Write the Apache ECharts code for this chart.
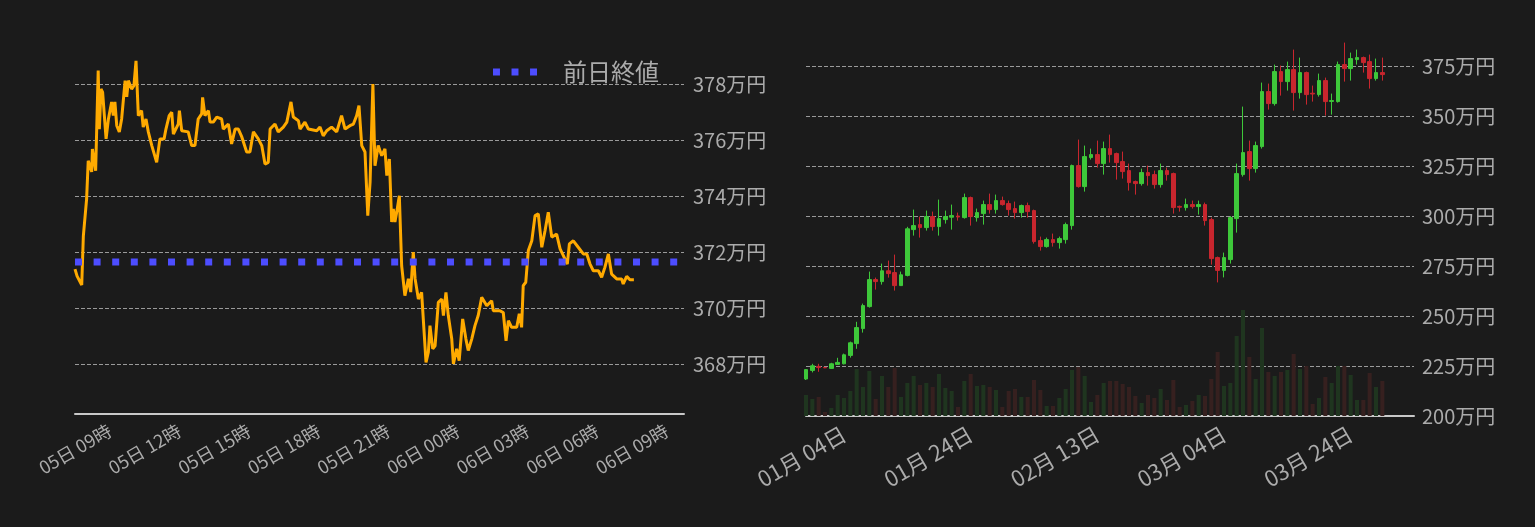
<!DOCTYPE html>
<html>
<head>
<meta charset="utf-8">
<script src="https://cdn.jsdelivr.net/npm/echarts@6/dist/echarts.min.js"></script>
<style>
html,body{margin:0;padding:0;background:#1b1b1b;}
#chart{width:1535px;height:527px;}
</style>
</head>
<body>
<div id="chart"></div>
<script>
// ---- Left chart: intraday price (hours since 05日 00:00, 万円) ----
const intradayHours = [7.50,7.59,7.79,7.86,8.00,8.07,8.22,8.25,8.39,8.50,8.55,8.62,8.69,8.84,8.94,9.08,9.15,9.22,9.30,9.41,9.51,9.66,9.73,9.80,9.94,10.04,10.13,10.23,10.37,10.44,10.56,10.66,10.81,11.02,11.16,11.34,11.42,11.56,11.67,11.74,11.95,12.00,12.10,12.38,12.53,12.67,12.81,12.96,13.00,13.10,13.25,13.32,13.46,13.61,13.82,13.89,14.11,14.25,14.40,14.54,14.69,14.90,15.04,15.19,15.40,15.55,15.69,15.83,15.91,16.12,16.26,16.48,16.63,16.81,16.91,17.13,17.20,17.41,17.56,17.92,18.06,18.20,18.35,18.56,18.78,18.99,19.14,19.35,19.50,19.64,19.74,19.86,20.00,20.12,20.22,20.34,20.43,20.57,20.72,20.86,20.94,21.05,21.15,21.22,21.29,21.39,21.48,21.58,21.72,21.87,21.97,22.08,22.16,22.30,22.44,22.51,22.63,22.73,22.80,22.92,23.02,23.16,23.31,23.38,23.49,23.59,23.74,23.81,23.95,24.06,24.21,24.35,24.45,24.60,24.74,24.88,25.03,25.25,25.46,25.53,25.82,25.96,26.08,26.18,26.32,26.54,26.65,26.75,26.82,26.93,27.04,27.19,27.33,27.47,27.62,27.76,27.90,28.05,28.26,28.41,28.55,28.72,28.81,28.98,29.19,29.41,29.56,29.70,29.84,30.06,30.20,30.34,30.49,30.63,30.85,31.06,31.13,31.28,31.42,31.59];
const intradayPrices = [371.39,371.14,370.82,372.58,373.89,375.26,374.86,375.68,374.90,378.48,376.39,377.82,377.71,376.04,376.75,377.36,376.87,377.36,376.51,376.29,376.75,378.12,377.54,378.12,377.82,377.94,378.83,376.87,377.05,376.46,376.75,376.29,375.80,375.20,376.04,376.04,376.39,376.87,376.99,376.21,376.57,377.05,376.33,376.29,375.80,375.80,376.75,376.93,377.52,376.87,377.05,376.64,376.64,376.82,376.75,376.39,376.57,375.86,376.39,376.39,376.11,375.57,375.57,376.29,376.04,375.80,375.14,375.20,376.39,376.57,376.29,376.46,376.64,377.36,376.82,376.69,376.39,376.64,376.39,376.33,376.46,376.15,376.33,376.46,376.29,376.87,376.39,376.51,376.57,376.87,377.23,375.80,375.57,373.30,374.50,378.00,375.08,375.80,375.44,375.68,374.73,375.32,373.07,373.54,373.07,373.54,374.01,371.51,370.44,371.04,370.57,372.00,371.04,370.32,370.56,370.57,368.06,368.42,369.37,368.54,368.65,370.20,370.32,369.73,370.56,369.73,368.89,368.00,368.54,368.12,369.61,368.89,368.48,368.89,369.37,369.73,370.38,370.08,370.26,369.90,369.90,369.84,368.83,369.55,369.31,369.31,369.79,369.31,370.80,370.92,372.05,372.40,373.30,373.36,372.17,372.76,373.42,372.53,372.64,372.11,371.87,371.57,372.29,372.40,372.17,371.93,371.93,371.57,371.33,371.33,371.10,371.45,371.93,371.21,371.04,371.04,370.86,371.13,371.01,371.01];
const prevClose = 371.64;
const prevCloseName = '前日終値';
const intradayTicks = [9,12,15,18,21,24,27,30,33];

// ---- Right chart: daily candles (万円) ----
const startDate = [2023, 11, 29]; // 2023-12-29
const categoryCount = 97;
const opens  = [218.5,222.8,224.8,224.3,223.8,225.8,226.1,230.3,236.2,243.7,254.7,268.2,267.2,272.6,271.7,265.2,270.3,293.2,295.7,294.2,299.7,294.7,298.2,299.4,300.0,299.2,309.2,299.2,301.2,305.7,303.2,307.7,306.2,303.7,301.7,305.2,302.7,287.7,284.7,288.2,286.7,288.2,295.2,325.2,314.7,329.2,330.7,326.2,333.7,331.2,327.2,322.7,317.2,316.2,321.7,320.7,315.7,322.7,321.2,304.8,304.2,305.7,304.7,305.7,298.2,279.2,272.8,278.2,298.7,320.7,332.2,323.7,334.7,362.2,356.2,372.2,367.2,373.2,361.7,371.7,361.4,360.7,367.7,357.3,357.2,375.7,373.7,378.2,379.2,377.2,368.7,371.7];
const closes = [223.2,225.1,224.2,224.1,226.1,226.8,230.6,236.6,244.2,255.2,268.2,267.2,272.6,271.2,265.2,270.6,293.6,295.2,294.2,299.7,294.7,298.7,299.7,300.2,299.5,309.2,299.7,301.7,305.7,303.2,307.7,305.7,303.2,301.7,305.2,302.2,287.2,284.7,288.2,286.7,288.7,295.7,325.2,314.7,329.7,330.7,326.2,333.7,330.7,326.7,322.2,316.7,316.2,321.7,320.2,315.7,322.7,320.7,304.2,304.4,305.7,304.7,305.7,297.7,278.7,272.8,279.2,299.2,321.2,331.7,323.7,335.2,362.2,356.2,372.2,367.2,373.2,361.7,371.7,360.7,361.0,367.7,357.2,357.7,375.7,373.7,378.7,379.2,376.7,368.7,371.7,370.7];
const lows   = [218.0,221.8,222.1,223.9,223.6,225.8,225.8,229.2,233.6,241.7,254.2,263.2,265.7,269.2,262.7,265.2,269.8,290.2,289.2,292.7,292.7,290.2,296.2,293.2,297.7,298.7,295.2,297.2,295.7,301.2,301.2,305.2,300.2,298.7,299.2,299.2,286.2,282.7,284.2,284.7,283.7,286.2,293.2,314.2,312.2,328.2,324.2,320.7,326.7,318.2,318.7,312.7,310.7,315.2,315.2,313.7,314.2,317.7,301.2,302.2,302.7,303.7,300.7,295.2,275.7,266.8,269.3,276.2,291.7,319.7,317.7,321.7,333.7,353.2,355.2,360.2,362.7,352.7,358.7,355.7,357.2,359.7,350.2,350.7,356.7,367.2,367.7,375.7,371.7,363.7,367.7,367.7];
const highs  = [223.5,226.1,226.1,224.5,226.6,229.1,231.2,237.2,247.1,256.2,272.2,269.2,276.2,277.7,280.7,272.2,294.6,303.2,299.7,302.7,302.2,308.2,302.7,305.7,301.7,311.2,309.7,303.7,307.7,311.2,310.7,309.7,307.7,307.2,305.7,306.7,303.2,289.7,289.2,291.2,289.7,296.7,325.7,338.2,335.2,333.7,337.7,337.2,340.7,331.7,332.2,326.2,317.7,323.7,325.2,322.7,326.2,324.2,321.7,305.2,308.7,307.7,307.7,306.7,299.2,279.7,281.7,300.0,326.2,354.7,337.7,337.2,366.7,366.2,375.7,375.2,377.2,383.2,379.2,372.2,365.2,371.2,369.2,361.2,377.2,386.7,381.7,383.2,379.7,380.7,378.7,379.2];
const volumes = [210,170,190,40,80,210,180,250,470,290,450,170,400,290,480,190,330,400,310,330,290,420,280,250,90,350,420,300,310,290,260,90,250,270,190,190,360,260,100,100,180,270,460,490,400,140,210,330,350,350,320,290,200,130,210,180,270,160,360,90,110,150,210,200,370,640,300,330,800,1060,590,370,880,440,400,440,460,620,470,500,120,180,390,330,500,500,410,160,160,430,290,350];
const dailyLabelFirst = 6;
const dailyLabelStep = 20;

// ---- derived ----
function pad2(n){ return (n < 10 ? '0' : '') + n; }
const dailyCategories = [];
for (let i = 0; i < categoryCount; i++) {
  const d = new Date(Date.UTC(startDate[0], startDate[1], startDate[2] + i));
  dailyCategories.push(pad2(d.getUTCMonth() + 1) + '月 ' + pad2(d.getUTCDate()) + '日');
}
const intradayData = intradayHours.map((h, i) => [h, intradayPrices[i]]);
const candleData = opens.map((o, i) => [o, closes[i], lows[i], highs[i]]);
const UP = '#3ec83a', DOWN = '#c8262e', VOL_UP = '#1f351f', VOL_DOWN = '#36201f';
const volumeData = volumes.map((v, i) => ({
  value: v,
  itemStyle: { color: closes[i] >= opens[i] ? VOL_UP : VOL_DOWN }
}));

const FONT = "'Noto Sans CJK JP', 'Noto Sans', sans-serif";
const LABEL = '#ababab';

const chart = echarts.init(document.getElementById('chart'), null, { renderer: 'canvas' });
chart.setOption({
  backgroundColor: '#1b1b1b',
  animation: false,
  textStyle: { fontFamily: FONT },
  legend: {
    left: 493, top: 60, padding: 0,
    data: [{ name: prevCloseName }],
    icon: 'path://M0,0h7v7h-7z M18.6,0h7v7h-7z M37.2,0h7v7h-7z',
    itemWidth: 44, itemHeight: 7,
    itemStyle: { color: '#4d4dff' },
    textStyle: { color: LABEL, fontSize: 24, fontFamily: FONT, padding: [0, 0, 0, 21] }
  },
  grid: [
    { left: 75, width: 609, top: 28, height: 392 },
    { left: 806, right: 121, top: 16, height: 400 }
  ],
  xAxis: [
    {
      gridIndex: 0, type: 'value', min: 7.5, max: 33.75, offset: -6,
      axisLine: { show: true, lineStyle: { color: '#c8c8c8', width: 2 } },
      axisTick: { show: false },
      splitLine: { show: false },
      axisLabel: {
        customValues: intradayTicks,
        rotate: 30, fontSize: 18, color: LABEL, fontFamily: FONT, margin: 15,
        formatter: v => pad2(5 + Math.floor(v / 24)) + '日 ' + pad2(v % 24) + '時'
      }
    },
    {
      gridIndex: 1, type: 'category', data: dailyCategories, boundaryGap: false,
      axisLine: { show: true, lineStyle: { color: '#c8c8c8', width: 2 } },
      axisTick: { show: false },
      splitLine: { show: false },
      axisLabel: {
        interval: (idx) => idx >= dailyLabelFirst && (idx - dailyLabelFirst) % dailyLabelStep === 0,
        rotate: 30, fontSize: 22, color: LABEL, fontFamily: FONT, margin: 16
      }
    }
  ],
  yAxis: [
    {
      gridIndex: 0, type: 'value', position: 'right', min: 366, max: 380, interval: 2,
      axisLine: { show: false }, axisTick: { show: false },
      axisLabel: { formatter: '{value}万円', fontSize: 20, color: LABEL, fontFamily: FONT, margin: 9,
                   showMinLabel: false, showMaxLabel: false },
      splitLine: { show: true, showMinLine: false, showMaxLine: false,
                   lineStyle: { color: '#9a9a9a', type: 'dashed', width: 1 } }
    },
    {
      gridIndex: 1, type: 'value', position: 'right', min: 200, max: 400, interval: 25,
      axisLine: { show: false }, axisTick: { show: false },
      axisLabel: { formatter: '{value}万円', fontSize: 20, color: LABEL, fontFamily: FONT, margin: 8,
                   showMaxLabel: false },
      splitLine: { show: true, showMaxLine: false,
                   lineStyle: { color: '#9a9a9a', type: 'dashed', width: 1 } }
    },
    {
      gridIndex: 1, type: 'value', min: 0, max: 4000, show: false,
      axisLabel: { show: false }, splitLine: { show: false }
    }
  ],
  series: [
    {
      name: 'price', type: 'line', xAxisIndex: 0, yAxisIndex: 0,
      data: intradayData, showSymbol: false, symbol: 'none',
      lineStyle: { color: '#ffaa00', width: 3 }, z: 3
    },
    {
      name: prevCloseName, type: 'line', xAxisIndex: 0, yAxisIndex: 0,
      data: [[7.5, prevClose], [33.75, prevClose]], showSymbol: false, symbol: 'none',
      itemStyle: { color: '#4d4dff' },
      lineStyle: { color: '#4d4dff', width: 7, type: [7, 11.6], cap: 'butt' }, z: 4
    },
    {
      name: 'volume', type: 'bar', xAxisIndex: 1, yAxisIndex: 2,
      data: volumeData, barWidth: 4, z: 1
    },
    {
      name: 'candle', type: 'candlestick', xAxisIndex: 1, yAxisIndex: 1,
      data: candleData, barWidth: 4,
      itemStyle: { color: UP, color0: DOWN, borderColor: UP, borderColor0: DOWN, borderWidth: 1 }, z: 3
    }
  ]
});
</script>
</body>
</html>
